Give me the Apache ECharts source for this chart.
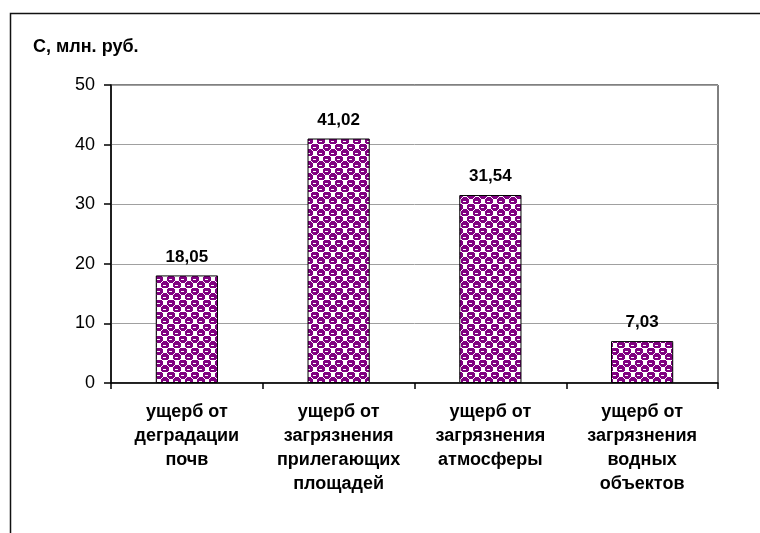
<!DOCTYPE html>
<html>
<head>
<meta charset="utf-8">
<script src="https://cdn.jsdelivr.net/npm/echarts@6/dist/echarts.min.js"></script>
<style>
  html, body { margin: 0; padding: 0; background: #fff; }
  #chart { width: 760px; height: 533px; }
</style>
</head>
<body>
<div id="chart"></div>
<script>
// Damage categories (Russian labels, line-broken as drawn under the axis)
const categories = [
  'ущерб от\nдеградации\nпочв',
  'ущерб от\nзагрязнения\nприлегающих\nплощадей',
  'ущерб от\nзагрязнения\nатмосферы',
  'ущерб от\nзагрязнения\nводных\nобъектов'
];
// Damage values, million roubles
const values = [18.05, 41.02, 31.54, 7.03];
// Y axis range
const yMin = 0, yMax = 50, yStep = 10;
const yTitle = 'С, млн. руб.';

// Purple/white "sphere" hatch used as the bar fill
function makePattern() {
  const c = document.createElement('canvas');
  c.width = 12; c.height = 12;
  const g = c.getContext('2d');
  g.fillStyle = '#ffffff';
  g.fillRect(0, 0, 12, 12);
  g.fillStyle = '#800080';
  g.fillRect(0, 0, 6, 6);
  g.fillRect(6, 6, 6, 6);
  // ball edges bulging into the white cells
  g.fillRect(6, 1, 1, 4); g.fillRect(11, 1, 1, 4);
  g.fillRect(0, 7, 1, 4); g.fillRect(5, 7, 1, 4);
  g.fillRect(1, 6, 4, 1); g.fillRect(7, 5, 4, 1);
  // small white highlight on each ball
  g.fillStyle = '#ffffff';
  g.fillRect(1, 3, 3, 1);
  g.fillRect(7, 9, 3, 1);
  return c;
}

const chart = echarts.init(document.getElementById('chart'));
const font = 'Liberation Sans, Arial, sans-serif';

chart.setOption({
  animation: false,
  backgroundColor: '#ffffff',
  grid: {
    left: 111, top: 85, right: 42, bottom: 150,
    show: true, borderColor: '#000', borderWidth: 1
  },
  graphic: [
    // outer frame (left and top edges)
    { type: 'polyline', silent: true,
      shape: { points: [[10.5, 540], [10.5, 13.5], [770, 13.5]] },
      style: { stroke: '#111', lineWidth: 1.5, fill: null } },
    { type: 'text', left: 33, top: 38,
      style: { text: yTitle, font: 'bold 18px ' + font, fill: '#000' } }
  ],
  xAxis: {
    type: 'category',
    data: categories,
    axisLine: { lineStyle: { color: '#000', width: 1.5 } },
    axisTick: { show: true, length: 6, lineStyle: { color: '#000', width: 1.5 } },
    axisLabel: {
      interval: 0, margin: 17, color: '#000',
      fontFamily: font, fontSize: 18, fontWeight: 'bold', lineHeight: 24
    }
  },
  yAxis: {
    type: 'value',
    min: yMin, max: yMax, interval: yStep,
    axisLine: { show: true, lineStyle: { color: '#000', width: 1.5 } },
    axisTick: { show: true, length: 7, lineStyle: { color: '#000', width: 1.5 } },
    axisLabel: { margin: 16, color: '#000', fontFamily: font, fontSize: 18 },
    splitLine: { lineStyle: { color: '#a0a0a0', width: 1 } }
  },
  series: [{
    type: 'bar',
    data: values,
    barWidth: '41%',
    itemStyle: {
      color: { image: makePattern(), repeat: 'repeat' },
      borderColor: '#000', borderWidth: 1
    },
    label: {
      show: true, position: 'top', distance: 10,
      color: '#000', fontFamily: font, fontSize: 17, fontWeight: 'bold',
      formatter: p => p.value.toFixed(2).replace('.', ',')
    }
  }]
});
</script>
</body>
</html>
